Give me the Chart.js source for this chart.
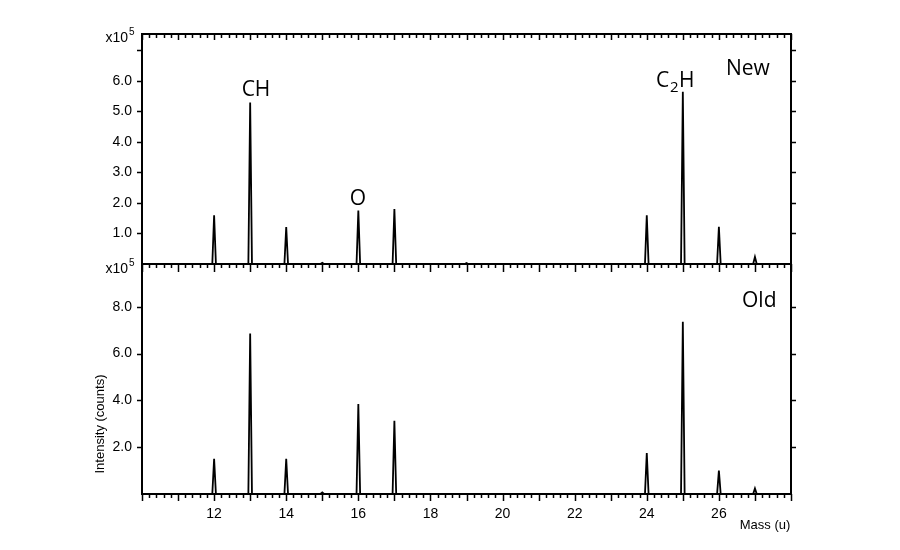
<!DOCTYPE html>
<html>
<head>
<meta charset="utf-8">
<script src="https://cdn.jsdelivr.net/npm/chart.js@4/dist/chart.umd.min.js"></script>
<style>
  html, body { margin: 0; padding: 0; background: #fff; }
  #wrap { position: relative; width: 900px; height: 550px; }
</style>
</head>
<body>
<div id="wrap"><canvas id="ms" width="900" height="550"></canvas></div>
<script>
// peak positions (u) and heights (x10^5 counts)
const masses    = [12, 13, 14, 15, 16, 17, 19, 24, 25, 26, 27];
const newCounts = [1.60, 5.29, 1.21, 0.04, 1.75, 1.80, 0.03, 1.60, 5.65, 1.22, 0.23];
const oldCounts = [1.50, 6.86, 1.50, 0.07, 3.85, 3.13, 0.00, 1.75, 7.36, 1.00, 0.24];

const xTickLabels = [12, 14, 16, 18, 20, 22, 24, 26];
const topTickLabels = [1, 2, 3, 4, 5, 6];
const botTickLabels = [2, 4, 6, 8];

const TICK_FONT = { family: 'Arial, "Liberation Sans", sans-serif', size: 14 };

// each peak is a narrow spike rising from the baseline
function spikes(heights) {
  const pts = [{ x: 10, y: 0 }];
  masses.forEach((m, i) => {
    pts.push({ x: m - 0.05, y: 0 }, { x: m, y: heights[i] }, { x: m + 0.05, y: 0 });
  });
  pts.push({ x: 28, y: 0 });
  return pts;
}

// frame, tick marks and labels drawn on top of the library scales
const framePlugin = {
  id: 'frame',
  afterDraw(chart) {
    const { ctx, chartArea: a, scales } = chart;
    const x = scales.x, yT = scales.yTop, yB = scales.yBot;
    const mid = Math.round(yT.getPixelForValue(0));
    ctx.save();
    ctx.strokeStyle = '#000';
    ctx.fillStyle = '#000';
    ctx.lineWidth = 2;
    ctx.strokeRect(a.left, a.top, a.right - a.left, mid - a.top);
    ctx.strokeRect(a.left, mid, a.right - a.left, a.bottom - mid);

    // x ticks every 0.2, major every 1
    ctx.lineWidth = 1.5;
    ctx.beginPath();
    for (let i = 50; i <= 140; i++) {
      const px = Math.round(x.getPixelForValue(i / 5)) + 0.5;
      const major = i % 5 === 0;
      ctx.moveTo(px, a.top); ctx.lineTo(px, a.top + (major ? 6 : 4));
      ctx.moveTo(px, mid); ctx.lineTo(px, mid + (major ? 8 : 4));
      ctx.moveTo(px, a.bottom); ctx.lineTo(px, a.bottom + (major ? 7 : 4));
    }
    // y ticks, outward on both sides
    [[yT, [1, 2, 3, 4, 5, 6, 7]], [yB, botTickLabels]].forEach(([s, vals]) => {
      vals.forEach(v => {
        const py = Math.round(s.getPixelForValue(v)) + 0.5;
        ctx.moveTo(a.left - 5, py); ctx.lineTo(a.left, py);
        ctx.moveTo(a.right, py); ctx.lineTo(a.right + 5, py);
      });
    });
    ctx.stroke();

    // x10^5 multipliers
    ctx.textBaseline = 'alphabetic';
    ctx.textAlign = 'right';
    ctx.font = '14px Arial, "Liberation Sans", sans-serif';
    ctx.fillText('x10', a.left - 14, a.top + 8);
    ctx.fillText('x10', a.left - 14, mid + 9);
    ctx.textAlign = 'left';
    ctx.font = '10px Arial, "Liberation Sans", sans-serif';
    ctx.fillText('5', a.left - 13, a.top + 1);
    ctx.fillText('5', a.left - 13, mid + 2);

    // axis titles
    ctx.font = '13px Arial, "Liberation Sans", sans-serif';
    ctx.textAlign = 'center';
    ctx.fillText('Mass (u)', 765, 529);
    ctx.save();
    ctx.translate(104, 424);
    ctx.rotate(-Math.PI / 2);
    ctx.fillText('Intensity (counts)', 0, 0);
    ctx.restore();

    // peak and panel labels
    ctx.font = '21px "Open Sans", sans-serif';
    ctx.textAlign = 'center';
    ctx.fillText('CH', 256, 96);
    ctx.fillText('O', 358, 205);
    ctx.textAlign = 'left';
    ctx.fillText('C', 656, 87);
    ctx.font = '15px "Open Sans", sans-serif';
    ctx.fillText('2', 670, 92);
    ctx.font = '21px "Open Sans", sans-serif';
    ctx.fillText('H', 679, 87);
    ctx.fillText('New', 726, 75);
    ctx.fillText('Old', 742, 307);
    ctx.restore();
  }
};

new Chart(document.getElementById('ms'), {
  type: 'line',
  data: {
    datasets: [
      { label: 'New', data: spikes(newCounts), yAxisID: 'yTop', borderColor: '#000', borderWidth: 1.8, pointRadius: 0, tension: 0, fill: false },
      { label: 'Old', data: spikes(oldCounts), yAxisID: 'yBot', borderColor: '#000', borderWidth: 1.8, pointRadius: 0, tension: 0, fill: false },
    ],
  },
  options: {
    responsive: false,
    animation: false,
    devicePixelRatio: 1,
    layout: { padding: { top: 34, right: 109, bottom: 26, left: 0 } },
    plugins: { legend: { display: false }, tooltip: { enabled: false } },
    scales: {
      x: {
        type: 'linear', min: 10, max: 28,
        grid: { display: false }, border: { display: false },
        afterFit: s => { s.height = 30; },
        ticks: {
          stepSize: 2, autoSkip: false, maxRotation: 0, padding: 4, color: '#000', font: TICK_FONT,
          callback: v => xTickLabels.includes(v) ? String(v) : '',
        },
      },
      // stacked scales are laid out bottom-up, so the lower panel comes first
      yBot: {
        type: 'linear', position: 'left', stack: 'panels', stackWeight: 1, min: 0, max: 9.83,
        grid: { display: false }, border: { display: false },
        afterFit: s => { s.width = 142; },
        ticks: {
          stepSize: 2, autoSkip: false, padding: 2, color: '#000', font: TICK_FONT,
          callback: v => botTickLabels.includes(v) ? v.toFixed(1) : '',
        },
      },
      yTop: {
        type: 'linear', position: 'left', stack: 'panels', stackWeight: 1, min: 0, max: 7.54,
        grid: { display: false }, border: { display: false },
        afterFit: s => { s.width = 142; },
        ticks: {
          stepSize: 1, autoSkip: false, padding: 2, color: '#000', font: TICK_FONT,
          callback: v => topTickLabels.includes(v) ? v.toFixed(1) : '',
        },
      },
    },
  },
  plugins: [framePlugin],
});
</script>
</body>
</html>
